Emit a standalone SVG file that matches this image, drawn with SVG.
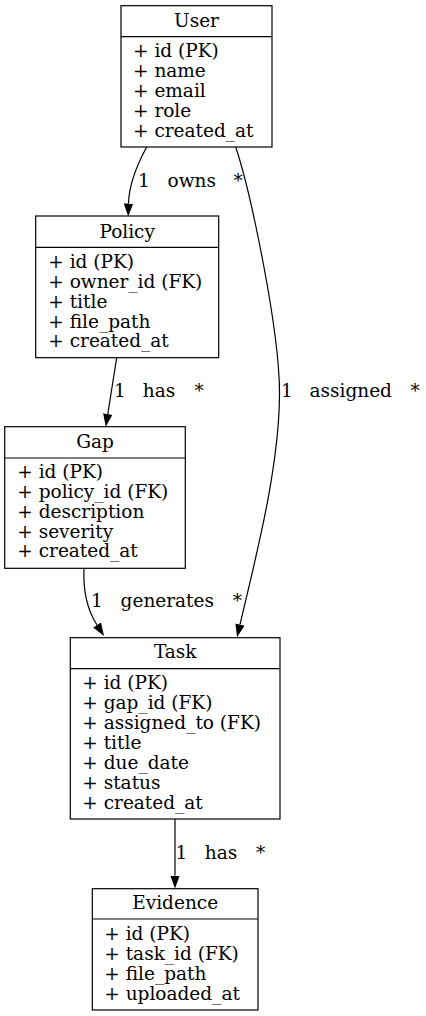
<svg xmlns="http://www.w3.org/2000/svg" width="426" height="1016" viewBox="0 0 426 1016">
<style>
text{font-family:"DejaVu Serif","Liberation Serif",serif;font-size:18.5px;fill:#000}
.t{text-anchor:middle}
.box{fill:#fff;stroke:#000;stroke-width:1.2}
.div{stroke:#000;stroke-width:1.2}
.edge{fill:none;stroke:#000;stroke-width:1.2}
</style>
<defs>
<marker id="arr" markerUnits="userSpaceOnUse" markerWidth="14" markerHeight="10" refX="0" refY="4.7" orient="auto">
<path d="M0,0 L13,4.7 L0,9.4 z" fill="#000"/>
</marker>
</defs>
<rect width="426" height="1016" fill="#fff"/>
<g id="edges">
<path class="edge" marker-end="url(#arr)" d="M146.7,147 C138,163 129,182 128.5,203.5"/>
<path class="edge" marker-end="url(#arr)" d="M235.7,147 C250,190 280,330 279.5,395 C279,470 255,560 240,624.5"/>
<path class="edge" marker-end="url(#arr)" d="M116.7,357.7 L107.8,414"/>
<path class="edge" marker-end="url(#arr)" d="M84,568.3 C83,590 86,608 97,625"/>
<path class="edge" marker-end="url(#arr)" d="M175,819 L175,875.5"/>
<text x="138" y="187">1</text><text class="t" x="191.7" y="187">owns</text><text class="t" x="238" y="187">*</text>
<text x="281" y="397">1</text><text class="t" x="350.7" y="397">assigned</text><text class="t" x="415" y="397">*</text>
<text x="114" y="397">1</text><text class="t" x="159" y="397">has</text><text class="t" x="199" y="397">*</text>
<text x="91" y="607">1</text><text class="t" x="167.3" y="607">generates</text><text class="t" x="237.3" y="607">*</text>
<text x="175.5" y="858.5">1</text><text class="t" x="221" y="858.5">has</text><text class="t" x="260.7" y="858.5">*</text>
</g>
<g id="User">
<rect class="box" x="121" y="5.7" width="151" height="141.3"/>
<line class="div" x1="121" y1="36.7" x2="272" y2="36.7"/>
<text class="t" x="196.5" y="27">User</text>
<text x="133" y="57.3">+ id (PK)</text>
<text x="133" y="77.2">+ name</text>
<text x="133" y="97.1">+ email</text>
<text x="133" y="117">+ role</text>
<text x="133" y="136.8">+ created_at</text>
</g>
<g id="Policy">
<rect class="box" x="35.7" y="216" width="183" height="141.7"/>
<line class="div" x1="35.7" y1="247.3" x2="218.7" y2="247.3"/>
<text class="t" x="127.2" y="237.5">Policy</text>
<text x="48.3" y="268.3">+ id (PK)</text>
<text x="48.3" y="288.1">+ owner_id (FK)</text>
<text x="48.3" y="307.9">+ title</text>
<text x="48.3" y="327.6">+ file_path</text>
<text x="48.3" y="347.4">+ created_at</text>
</g>
<g id="Gap">
<rect class="box" x="4.7" y="426.7" width="180.6" height="141.6"/>
<line class="div" x1="4.7" y1="458" x2="185.3" y2="458"/>
<text class="t" x="95" y="447.5">Gap</text>
<text x="17.3" y="478.3">+ id (PK)</text>
<text x="17.3" y="498.1">+ policy_id (FK)</text>
<text x="17.3" y="517.9">+ description</text>
<text x="17.3" y="537.6">+ severity</text>
<text x="17.3" y="557.4">+ created_at</text>
</g>
<g id="Task">
<rect class="box" x="70.3" y="637.7" width="209.7" height="181.3"/>
<line class="div" x1="70.3" y1="668.7" x2="280" y2="668.7"/>
<text class="t" x="175.2" y="658.2">Task</text>
<text x="82.3" y="689.3">+ id (PK)</text>
<text x="82.3" y="709.3">+ gap_id (FK)</text>
<text x="82.3" y="729.3">+ assigned_to (FK)</text>
<text x="82.3" y="749.3">+ title</text>
<text x="82.3" y="769.3">+ due_date</text>
<text x="82.3" y="789.3">+ status</text>
<text x="82.3" y="809.3">+ created_at</text>
</g>
<g id="Evidence">
<rect class="box" x="92.3" y="888.7" width="165.7" height="121.3"/>
<line class="div" x1="92.3" y1="919" x2="258" y2="919"/>
<text class="t" x="175.2" y="908.8">Evidence</text>
<text x="104.3" y="940">+ id (PK)</text>
<text x="104.3" y="960">+ task_id (FK)</text>
<text x="104.3" y="980">+ file_path</text>
<text x="104.3" y="1000">+ uploaded_at</text>
</g>
</svg>
